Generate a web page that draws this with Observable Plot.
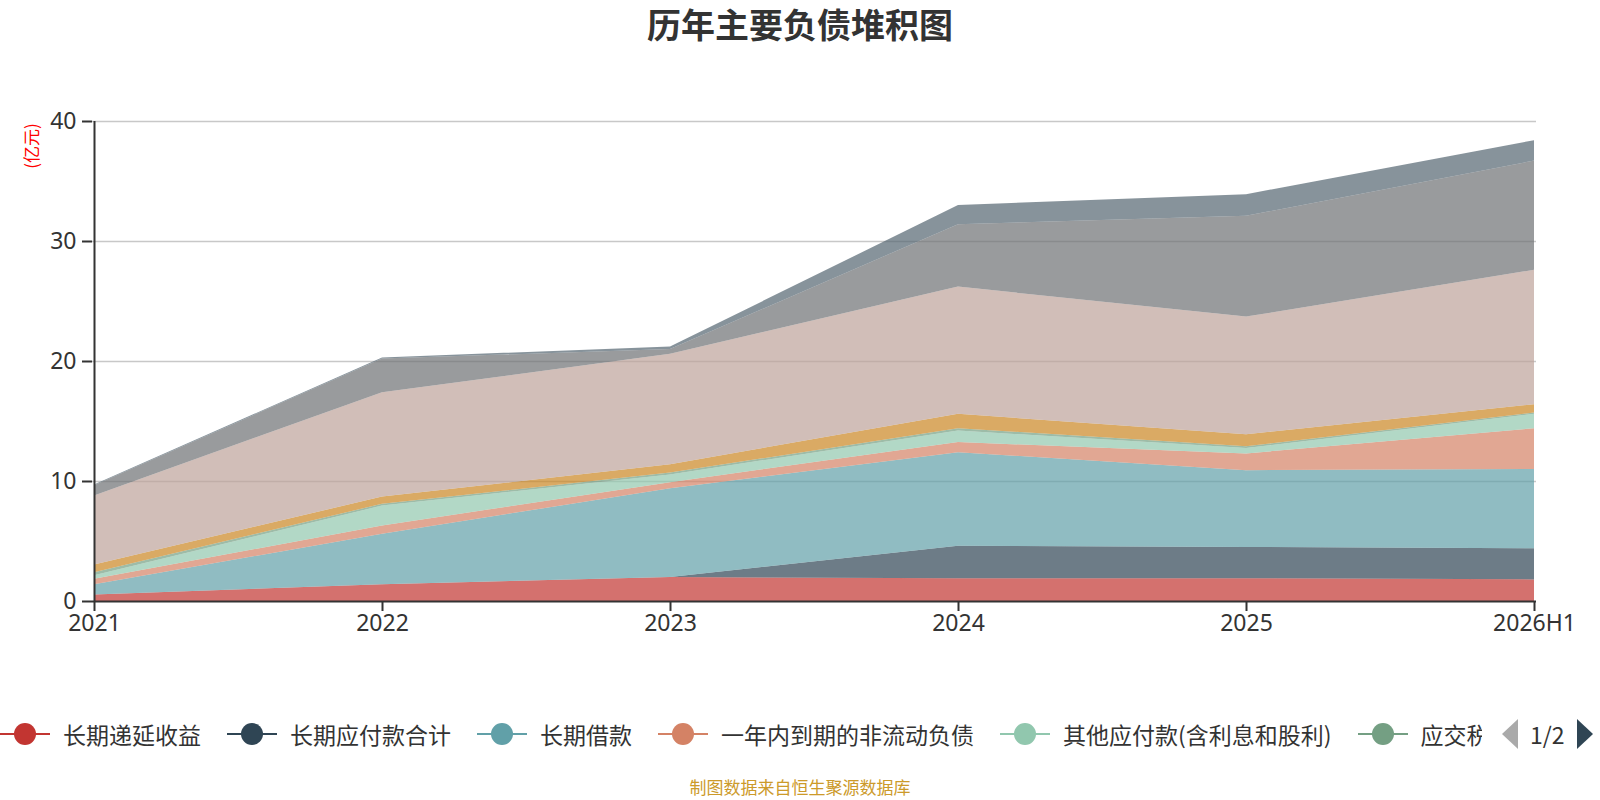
<!DOCTYPE html>
<html>
<head>
<meta charset="utf-8">
<script src="https://cdn.jsdelivr.net/npm/d3@7"></script>
<script src="https://cdn.jsdelivr.net/npm/@observablehq/plot@0.6"></script>
<style>
  body { margin: 0; background: #fff; font-family: "Noto Sans CJK SC", "Noto Sans", sans-serif; }
  #wrap { position: relative; width: 1600px; height: 800px; overflow: hidden; background: #fff; }
  #title { position: absolute; left: 0; top: 3px; width: 1600px; text-align: center; font-size: 34px; font-weight: bold; color: #333; line-height: 42px; }
  #chart { position: absolute; left: 0; top: 0; }
  #yname { position: absolute; left: 30px; top: 146px; transform: translate(-50%, -50%) rotate(-90deg); color: #ff0000; font-size: 17px; white-space: nowrap; line-height: 1; }
  #legend { position: absolute; left: 0; top: 717px; width: 1482px; height: 34px; overflow: hidden; display: flex; align-items: center; white-space: nowrap; }
  .item { display: flex; align-items: center; margin-right: 26px; flex: none; }
  .item span { margin-left: 13px; font-size: 23px; color: #333; line-height: 34px; }
  #pager { position: absolute; left: 1500px; top: 717px; height: 34px; display: flex; align-items: center; }
  #pager span { font-size: 23px; color: #333; margin: 0 10px 0 10px; }
  #footer { position: absolute; left: 0; width: 1600px; top: 776px; text-align: center; font-size: 17px; color: #cc9a2a; line-height: 22px; }
</style>
</head>
<body>
<div id="wrap">
  <div id="chart"></div>
  <div id="title"></div>
  <div id="yname"></div>
  <div id="legend"></div>
  <div id="pager"></div>
  <div id="footer"></div>
</div>
<script>
// ---- data (亿元) ----
const titleText = "历年主要负债堆积图";
const unitText = "(亿元)";
const footerText = "制图数据来自恒生聚源数据库";
const years = ["2021", "2022", "2023", "2024", "2025", "2026H1"];
const yTicks = [0, 10, 20, 30, 40];

const seriesNames = ["长期递延收益", "长期应付款合计", "长期借款", "一年内到期的非流动负债", "其他应付款(含利息和股利)", "应交税费", "应付职工薪酬", "应付账款", "应付票据", "短期借款"];
const seriesColors = ["#c23531", "#2f4554", "#61a0a8", "#d48265", "#91c7ae", "#749f83", "#ca8622", "#bda29a", "#6e7074", "#546570"];

const deferredIncome   = [0.55, 1.4, 2.0, 1.9, 1.9, 1.8];
const longPayables     = [0, 0, 0, 2.7, 2.6, 2.6];
const longLoans        = [0.85, 4.2, 7.4, 7.8, 6.4, 6.6];
const currentNonCurr   = [0.45, 0.7, 0.5, 0.85, 1.4, 3.4];
const otherPayables    = [0.3, 1.65, 0.65, 0.95, 0.45, 1.2];
const taxesPayable     = [0.25, 0.15, 0.15, 0.2, 0.15, 0.1];
const staffPayable     = [0.65, 0.6, 0.7, 1.2, 1.0, 0.7];
const accountsPayable  = [5.75, 8.7, 9.2, 10.6, 9.8, 11.2];
const notesPayable     = [0.85, 2.8, 0.4, 5.2, 8.4, 9.1];
const shortLoans       = [0.05, 0.1, 0.2, 1.6, 1.8, 1.7];

const seriesValues = [deferredIncome, longPayables, longLoans, currentNonCurr, otherPayables, taxesPayable, staffPayable, accountsPayable, notesPayable, shortLoans];
const legendShown = 6;

const table = [];
seriesNames.forEach((name, i) => {
  years.forEach((year, j) => table.push({ name, year, value: seriesValues[i][j] }));
});

const chart = Plot.plot({
  width: 1600,
  height: 660,
  marginLeft: 92,
  marginRight: 64,
  marginTop: 121,
  marginBottom: 59,
  x: { type: "point", domain: years, padding: 0, label: null },
  y: { domain: [0, 40], label: null },
  color: { domain: seriesNames, range: seriesColors },
  style: { fontFamily: "'Noto Sans', 'Noto Sans CJK SC', sans-serif", fontSize: "23px", color: "#333", background: "transparent" },
  marks: [
    Plot.gridY(yTicks.filter(d => d > 0), { stroke: "#c8c8c8", strokeOpacity: 1, strokeWidth: 1.5 }),
    Plot.areaY(table, { x: "year", y: "value", fill: "name", fillOpacity: 0.7, curve: "linear" }),
    Plot.ruleY([yTicks[0]], { stroke: "#333", strokeWidth: 2 }),
    Plot.ruleX([years[0]], { y1: yTicks[0], y2: yTicks[yTicks.length - 1], stroke: "#333", strokeWidth: 2 }),
    Plot.axisY(yTicks, { tickSize: 10, tickPadding: 6, fontSize: 23, label: null, strokeWidth: 2 }),
    Plot.axisX(years, { tickSize: 10, tickPadding: 3, fontSize: 23, label: null, strokeWidth: 2 })
  ]
});
document.getElementById("chart").appendChild(chart);

document.getElementById("title").textContent = titleText;
document.getElementById("yname").textContent = unitText;
document.getElementById("footer").textContent = footerText;

const legend = document.getElementById("legend");
seriesNames.slice(0, legendShown).forEach((name, i) => {
  const item = document.createElement("div");
  item.className = "item";
  const c = seriesColors[i];
  item.innerHTML = `<svg width="50" height="26" viewBox="0 0 50 26"><line x1="0" y1="13" x2="50" y2="13" stroke="${c}" stroke-width="2"/><circle cx="25" cy="13" r="11" fill="${c}"/></svg><span>${name}</span>`;
  legend.appendChild(item);
});

const pager = document.getElementById("pager");
pager.innerHTML = `<svg width="20" height="32" viewBox="0 0 20 32"><polygon points="18,1 18,31 2,16" fill="#aaaaaa"/></svg><span>1/2</span><svg width="20" height="32" viewBox="0 0 20 32"><polygon points="2,1 2,31 18,16" fill="#2f4554"/></svg>`;
</script>
</body>
</html>
